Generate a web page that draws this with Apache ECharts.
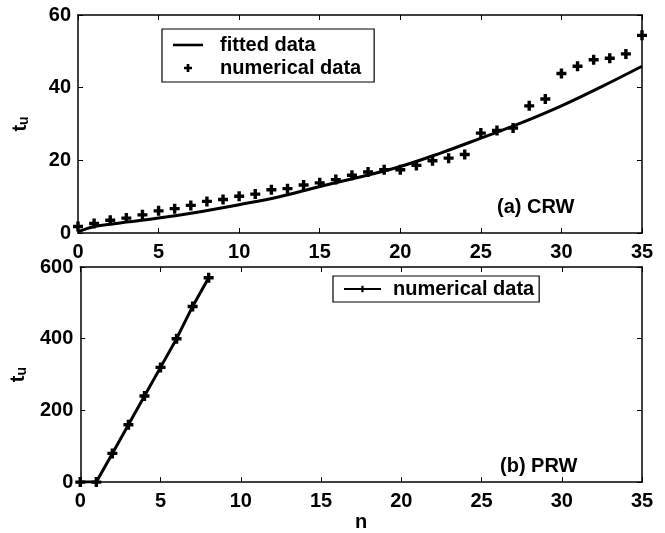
<!DOCTYPE html>
<html>
<head>
<meta charset="utf-8">
<script src="https://cdn.jsdelivr.net/npm/echarts@6/dist/echarts.min.js"></script>
<style>html,body{margin:0;padding:0;background:#fff;}#c{width:665px;height:533px;}</style>
</head>
<body>
<div id="c"></div>
<script>
// Panel (a) CRW
const crwN = [0,1,2,3,4,5,6,7,8,9,10,11,12,13,14,15,16,17,18,19,20,21,22,23,24,25,26,27,28,29,30,31,32,33,34,35];
const crwNumerical = [1.8,2.6,3.5,4.1,5.0,6.1,6.7,7.6,8.7,9.2,10.1,10.7,11.9,12.2,13.2,13.8,14.7,15.9,16.8,17.4,17.4,18.6,19.9,20.6,21.6,27.5,28.2,28.9,35.0,36.9,43.9,45.9,47.7,48.1,49.3,54.4];
const fitN = [0,1,2,3,5,7.5,10,12.5,15,17.5,20,22.5,25,27.5,30,32.5,35];
const fitT = [0.3,1.8,2.4,3.0,4.1,5.8,7.8,10.0,12.8,15.4,18.3,22.0,26.1,30.3,35.0,40.3,45.9];
// Panel (b) PRW
const prwN = [0,1,2,3,4,5,6,7,8];
const prwT = [0,0,80,160,240,320,400,490,570];
// Ticks
const xTicks = {min:0, max:35, interval:5};
const yTicksA = {min:0, max:60, interval:20};
const yTicksB = {min:0, max:600, interval:200};

const FONT = 'Liberation Sans';
const plus = 'path://M3.3,0H6.7V3.3H10V6.7H6.7V10H3.3V6.7H0V3.3H3.3Z';
const lineIcon = 'path://M0,0H30V2.6H0Z';
const lbl = {color:'#000', fontFamily:FONT, fontWeight:'bold', fontSize:20};

function xAx(grid, pos, show) {
  return {type:'value', gridIndex:grid, position:pos, min:xTicks.min, max:xTicks.max, interval:xTicks.interval,
    axisLine:{show:true, onZero:false, lineStyle:{color:'#000', width:1.5}},
    axisTick:{show:true, inside:true, length:5, lineStyle:{color:'#000', width:1}},
    axisLabel:{show:show, margin:9, ...lbl}, splitLine:{show:false}};
}
function yAx(grid, pos, t, show, name) {
  return {type:'value', gridIndex:grid, position:pos, min:t.min, max:t.max, interval:t.interval,
    axisLine:{show:true, onZero:false, lineStyle:{color:'#000', width:1.5}},
    axisTick:{show:true, inside:true, length:5, lineStyle:{color:'#000', width:1}},
    axisLabel:{show:show, margin:7, ...lbl}, splitLine:{show:false},
    name: name || '', nameLocation:'middle', nameGap:47, nameRotate:90,
    nameTextStyle:{color:'#000', fontFamily:FONT, fontWeight:'bold', fontSize:20,
      rich:{sub:{fontFamily:FONT, fontWeight:'bold', fontSize:14, verticalAlign:'bottom', padding:[8,0,0,0]}}}};
}
const xAxes = [xAx(0,'bottom',true), xAx(0,'top',false), xAx(1,'bottom',true), xAx(1,'top',false)];
xAxes[2].name = 'n';
xAxes[2].nameLocation = 'middle';
xAxes[2].nameGap = 15;
xAxes[2].nameTextStyle = {color:'#000', fontFamily:FONT, fontWeight:'bold', fontSize:20};

const chart = echarts.init(document.getElementById('c'), null, {renderer:'canvas'});
chart.setOption({
  animation:false,
  backgroundColor:'#fff',
  grid:[{left:78, top:15, width:564, height:218}, {left:78, top:267, width:564, height:217}],
  xAxis: xAxes,
  yAxis: [yAx(0,'left',yTicksA,true,'t{sub|u}'), yAx(0,'right',yTicksA,false), yAx(1,'left',yTicksB,true,'t{sub|u}'), yAx(1,'right',yTicksB,false)],
  title:[
    {text:'(a) CRW', left:497, top:197, padding:0, textStyle:{color:'#000', fontFamily:FONT, fontWeight:'bold', fontSize:20}},
    {text:'(b) PRW', left:500, top:456, padding:0, textStyle:{color:'#000', fontFamily:FONT, fontWeight:'bold', fontSize:20}}
  ],
  legend:[
    {data:[{name:'fitted data', icon:lineIcon}, {name:'numerical data', icon:plus}], orient:'vertical', left:162, top:29, padding:[6,13,4,11],
     borderColor:'#000', borderWidth:1.2, borderRadius:0, itemWidth:30, itemHeight:8, itemGap:3,
     selectedMode:false, textStyle:{color:'#000', fontFamily:FONT, fontWeight:'bold', fontSize:20, lineHeight:20, padding:[0,0,0,12]}},
    {data:['numerical data (b)'], orient:'vertical', left:333, top:276, padding:[3,5,3,10],
     borderColor:'#000', borderWidth:1.2, borderRadius:0, itemWidth:37, itemHeight:8,
     selectedMode:false, formatter:function(){return 'numerical data';},
     textStyle:{color:'#000', fontFamily:FONT, fontWeight:'bold', fontSize:20, lineHeight:20, padding:[0,0,0,7]}}
  ],
  series:[
    {name:'fitted data', type:'line', xAxisIndex:0, yAxisIndex:0, smooth:0.4, showSymbol:false, symbol:'none',
     data: fitN.map((n,i)=>[n, fitT[i]]), lineStyle:{color:'#000', width:3}, itemStyle:{color:'#000'}},
    {name:'numerical data', type:'scatter', xAxisIndex:0, yAxisIndex:0, symbol:plus, symbolSize:10,
     data: crwN.map((n,i)=>[n, crwNumerical[i]]), itemStyle:{color:'#000', opacity:1}},
    {name:'numerical data (b)', type:'line', xAxisIndex:2, yAxisIndex:2, symbol:plus, symbolSize:10, showSymbol:true,
     data: prwN.map((n,i)=>[n, prwT[i]]), lineStyle:{color:'#000', width:3}, itemStyle:{color:'#000', opacity:1}}
  ]
});
</script>
</body>
</html>
